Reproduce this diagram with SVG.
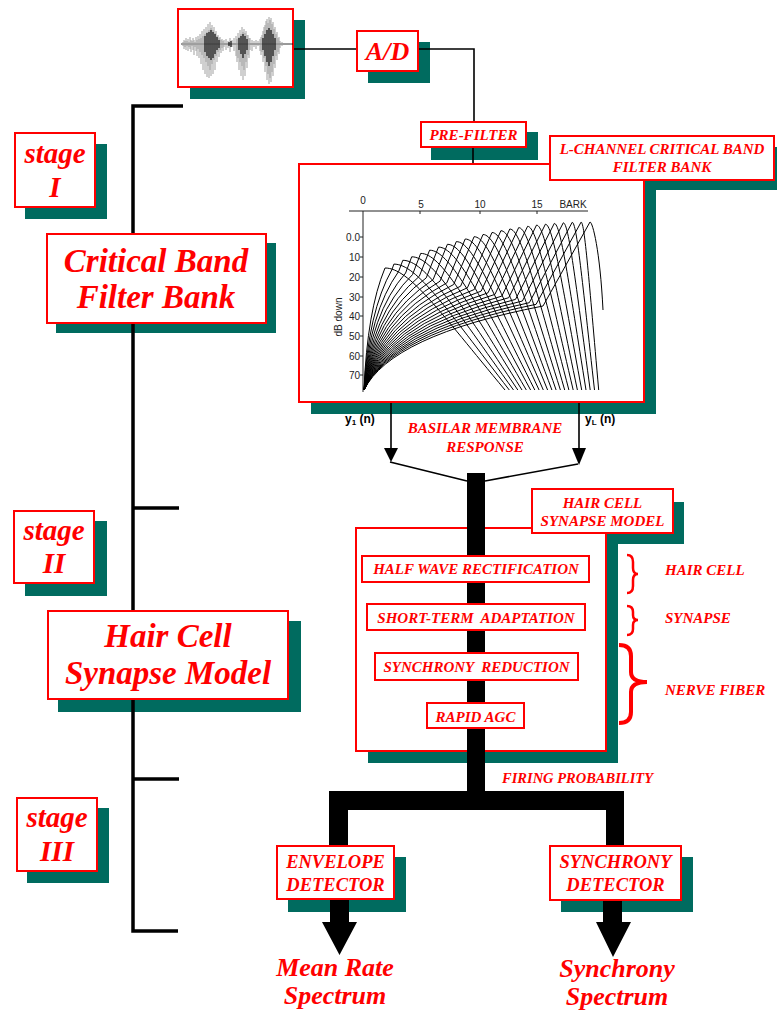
<svg xmlns="http://www.w3.org/2000/svg" width="777" height="1010" viewBox="0 0 777 1010">
<style>
.box{fill:#fff;stroke:#ff0000;stroke-width:2}
.sh{fill:#006b5f}
.t{font-family:"Liberation Serif",serif;font-weight:bold;font-style:italic;fill:#ff0000;text-anchor:middle}
.ts{text-anchor:start}
.s15{font-size:15px}
.s18{font-size:18.5px}
.big{font-size:33px}
.stg{font-size:29px}
.ln{stroke:#000;stroke-width:1.6;fill:none}
.br{stroke:#000;stroke-width:3.5;fill:none}
.cv{fill:none;stroke:#000;stroke-width:1}
.ax{font-family:"Liberation Sans",Arial,sans-serif;font-size:10px;fill:#222}
.yl{font-family:"Liberation Sans",Arial,sans-serif;font-weight:bold;font-size:12px;fill:#000}
.brace{fill:none;stroke:#ff0000}
</style>
<rect width="777" height="1010" fill="#fff"/>
<g id="shadows">
<rect class="sh" x="190" y="20" width="115" height="79"/>
<rect class="sh" x="368" y="42" width="62" height="41"/>
<rect class="sh" x="431" y="132" width="107" height="28"/>
<rect class="sh" x="562" y="147" width="215" height="43"/>
<rect class="sh" x="311" y="176" width="345" height="238"/>
<rect class="sh" x="25" y="144" width="82" height="75"/>
<rect class="sh" x="56" y="243" width="220" height="90"/>
<rect class="sh" x="25" y="521" width="82" height="75"/>
<rect class="sh" x="58" y="621" width="243" height="91"/>
<rect class="sh" x="27" y="808" width="82" height="75"/>
<rect class="sh" x="368" y="540" width="250" height="223"/>
<rect class="sh" x="543" y="502" width="141" height="42"/>
<rect class="sh" x="373" y="567" width="229" height="26"/>
<rect class="sh" x="378" y="615" width="220" height="28"/>
<rect class="sh" x="385" y="664" width="206" height="28"/>
<rect class="sh" x="438" y="713" width="99" height="29"/>
<rect class="sh" x="288" y="857" width="118" height="55"/>
<rect class="sh" x="561" y="857" width="132" height="55"/>
</g>
<g id="hair-cell-container">
<rect class="box" x="356" y="528" width="250" height="223"/>
</g>
<g id="connectors">
<path class="br" d="M183,106 H133 V931 H178 M133,508 H179 M133,779 H179"/>
<path class="ln" d="M293,49 H357 M418,49 H474 V122 M473,147 V164"/>
<path class="ln" d="M391,402 V449 M579,402 V449 M390,462 L467,481 M485,481 L578,464"/>
<polygon points="384,448 398,448 391,462" fill="#000"/>
<polygon points="572,448 586,448 579,465" fill="#000"/>
<rect x="467" y="473" width="18" height="337" fill="#000"/>
<rect x="329" y="791" width="295" height="19" fill="#000"/>
<rect x="329" y="791" width="19" height="56" fill="#000"/>
<rect x="606" y="791" width="18" height="56" fill="#000"/>
<polygon points="330,899 349,899 349,922 357,922 339.5,955 322,922 330,922" fill="#000"/>
<polygon points="603,899 622,899 622,922 631,922 613,957 596,922 603,922" fill="#000"/>
</g>
<g id="waveform">
<rect class="box" x="178" y="9" width="115" height="78"/>
<path d="M181,44 H293" stroke="#000" stroke-width="0.8"/>
<path stroke="#a0a0a0" stroke-width="1" d="M183,42V46M184,40V49M185,41V47M186,38V50M187,41V46M188,39V51M189,42V47M190,37V49M191,40V52M192,41V46M193,38V50M194,40V55M195,42V47M196,37V51M197,40V56M198,36V49M199,39V58M200,34V52M201,38V64M202,31V55M203,36V70M204,29V58M205,34V74M206,27V62M207,32V77M208,24V66M209,30V78M210,22V70M211,28V76M212,25V64M213,30V74M214,27V60M215,33V70M216,31V56M217,36V62M218,35V52M219,38V57M220,37V50M221,40V53M222,39V48M223,41V51M224,40V47M226,39V50M228,41V48M230,38V52M232,40V47M234,38V51M236,36V56M237,39V62M238,33V58M239,37V70M240,30V62M241,34V76M242,27V66M243,32V80M244,29V70M245,33V76M246,31V62M247,35V68M248,35V55M249,38V58M250,38V50M252,40V51M254,41V47M256,40V49M258,41V46M260,39V51M261,37V55M262,35V52M263,31V62M264,27V58M265,25V72M266,21V66M267,19V80M268,23V74M269,17V84M270,20V78M271,18V82M272,24V72M273,22V76M274,29V64M275,27V68M276,34V56M277,32V60M278,38V52M279,37V54M280,41V48M282,42V46"/>
<path stroke="#000" stroke-width="1.1" d="M205,36V52M207,33V56M209,32V58M211,30V60M213,32V58M215,34V54M217,37V50M219,40V48M229,42V46M231,41V47M239,38V50M241,36V54M243,34V58M245,36V54M247,39V50M263,38V50M265,34V56M267,30V62M269,28V66M271,30V62M273,34V56M275,38V50"/>
</g>
<g id="ad">
<rect class="box" x="357" y="31" width="61" height="40"/>
<text class="t" x="387.5" y="60" font-size="26">A/D</text>
</g>
<g id="pre-filter">
<rect class="box" x="421" y="122" width="105" height="25"/>
<text class="t s15" x="473.5" y="140">PRE-FILTER</text>
</g>
<g id="filter-bank-graph">
<rect class="box" x="299" y="164" width="345" height="238"/>
<path d="M349,211 H588 M363,211 V392 M420,211 V214 M480,211 V214 M537,211 V214 M360,237 H363 M360,257 H363 M360,277 H363 M360,297 H363 M360,316 H363 M360,336 H363 M360,356 H363 M360,375 H363" stroke="#222" stroke-width="1" fill="none"/>
<text class="ax" x="363" y="204" text-anchor="middle">0</text>
<text class="ax" x="421" y="208" text-anchor="middle">5</text>
<text class="ax" x="480" y="208" text-anchor="middle">10</text>
<text class="ax" x="537" y="208" text-anchor="middle">15</text>
<text class="ax" x="573" y="208" text-anchor="middle">BARK</text>
<text class="ax" x="360" y="241" text-anchor="end">0.0</text>
<text class="ax" x="360" y="261" text-anchor="end">10</text>
<text class="ax" x="360" y="281" text-anchor="end">20</text>
<text class="ax" x="360" y="301" text-anchor="end">30</text>
<text class="ax" x="360" y="320" text-anchor="end">40</text>
<text class="ax" x="360" y="340" text-anchor="end">50</text>
<text class="ax" x="360" y="360" text-anchor="end">60</text>
<text class="ax" x="360" y="379" text-anchor="end">70</text>
<text class="ax" x="0" y="0" font-size="11" text-anchor="middle" transform="translate(342,317) rotate(-90)">dB down</text>
<g class="cv">
<path d="M364,390 Q367.2,310.7 385,268 C409,268 439,310.7 505,390"/>
<path d="M364,390 Q368.2,311.8 391.9,269.7 L393.9,264.1 C417,264.1 445.8,308.2 509.3,390"/>
<path d="M364,390 Q369.2,312.8 398.7,271.3 L402.8,260.3 C424.9,260.3 452.6,305.7 513.5,390"/>
<path d="M364,390 Q370.2,313.9 405.6,273 L411.7,256.8 C432.9,256.8 459.4,303.4 517.8,390"/>
<path d="M364,390 Q371.3,315 412.5,274.6 L420.7,253.4 C441,253.4 466.3,301.2 522,390"/>
<path d="M364,390 Q372.3,316.1 419.3,276.3 L429.6,250.2 C448.9,250.2 473.1,299.1 526.3,390"/>
<path d="M364,390 Q373.3,317.1 426.2,277.9 L438.5,247.1 C456.9,247.1 479.9,297.1 530.6,390"/>
<path d="M364,390 Q374.4,318.2 433.1,279.6 L447.4,244.3 C464.9,244.3 486.7,295.3 534.8,390"/>
<path d="M364,390 Q375.4,319.3 440,281.2 L456.3,241.6 C472.9,241.6 493.6,293.5 539.1,390"/>
<path d="M364,390 Q376.4,320.4 446.8,282.9 L465.2,239 C480.8,239 500.3,291.9 543.3,390"/>
<path d="M364,390 Q377.5,321.4 453.7,284.5 L474.1,236.7 C488.8,236.7 507.2,290.4 547.6,390"/>
<path d="M364,390 Q378.5,322.5 460.6,286.2 L483,234.5 C496.8,234.5 514,288.9 551.9,390"/>
<path d="M364,390 Q379.5,323.6 467.4,287.8 L492,232.5 C504.8,232.5 520.8,287.6 556.1,390"/>
<path d="M364,390 Q380.5,324.7 474.3,289.5 L500.9,230.7 C512.8,230.7 527.7,286.5 560.4,390"/>
<path d="M364,390 Q381.6,325.7 481.2,291.1 L509.8,229 C520.8,229 534.5,285.4 564.7,390"/>
<path d="M364,390 Q382.6,326.8 488,292.8 L518.7,227.6 C528.7,227.6 541.3,284.4 568.9,390"/>
<path d="M364,390 Q383.6,327.9 494.9,294.4 L527.6,226.3 C536.7,226.3 548.1,283.6 573.2,390"/>
<path d="M364,390 Q384.7,329 501.8,296.1 L536.5,225.1 C544.7,225.1 554.9,282.8 577.4,390"/>
<path d="M364,390 Q385.7,330 508.7,297.7 L545.4,224.2 C552.7,224.2 561.7,282.2 581.7,390"/>
<path d="M364,390 Q386.7,331.1 515.5,299.4 L554.3,223.4 C560.6,223.4 568.6,281.7 586,390"/>
<path d="M364,390 Q387.8,332.1 522.4,301 L563.3,222.8 C568.7,222.8 575.4,281.3 590.2,390"/>
<path d="M364,390 Q388.8,333.3 529.3,302.7 L572.2,222.3 C576.7,222.3 582.2,281 594.5,390"/>
<path d="M364,390 Q389.8,334.3 536.1,304.3 L581.1,222.1 C584.6,222.1 589,280.9 598.7,390"/>
<path d="M364,390 Q390.9,335.4 543,306 L590,222 C592.6,222 600,250 603,310"/>
</g>
</g>
<g id="l-channel">
<rect class="box" x="550" y="136" width="224" height="44"/>
<text class="t s15" x="662" y="154">L-CHANNEL CRITICAL BAND</text>
<text class="t s15" x="662" y="172">FILTER BANK</text>
</g>
<g id="outputs-labels">
<text class="yl" x="345" y="423">y<tspan font-size="8" dy="2">1</tspan><tspan dy="-2"> (n)</tspan></text>
<text class="yl" x="585" y="423">y<tspan font-size="8" dy="2">L</tspan><tspan dy="-2"> (n)</tspan></text>
</g>
<g id="basilar-label">
<text class="t s15" x="485" y="433">BASILAR MEMBRANE</text>
<text class="t s15" x="485" y="452">RESPONSE</text>
</g>
<g id="hcsm-label">
<rect class="box" x="532" y="489" width="141" height="44"/>
<text class="t s15" x="602.5" y="508">HAIR CELL</text>
<text class="t s15" x="602.5" y="526">SYNAPSE MODEL</text>
</g>
<g id="half-wave">
<rect class="box" x="362" y="556" width="227" height="26"/>
<text class="t s15" x="476" y="574">HALF WAVE RECTIFICATION</text>
</g>
<g id="short-term">
<rect class="box" x="367" y="604" width="218" height="26"/>
<text class="t s15" x="476" y="623" xml:space="preserve">SHORT-TERM  ADAPTATION</text>
</g>
<g id="sync-reduction">
<rect class="box" x="375" y="653" width="203" height="27"/>
<text class="t s15" x="476.5" y="672" xml:space="preserve">SYNCHRONY  REDUCTION</text>
</g>
<g id="rapid-agc">
<rect class="box" x="427" y="703" width="97" height="25"/>
<text class="t s15" x="475.5" y="722">RAPID AGC</text>
</g>
<g id="braces">
<path class="brace" stroke-width="2.5" d="M627,555 Q633,555 633,562 L633,568 Q633,574 638,574 Q633,574 633,580 L633,586 Q633,593 627,593"/>
<path class="brace" stroke-width="2.5" d="M627,606 Q633,606 633,612 L633,615 Q633,620 638,620 Q633,620 633,625 L633,629 Q633,635 627,635"/>
<path class="brace" stroke-width="4" d="M619,645 Q631,645 631,656 L631,672 Q631,682 647,682 Q631,682 631,692 L631,712 Q631,723 619,723"/>
<text class="t ts s15" x="665" y="575">HAIR CELL</text>
<text class="t ts s15" x="665" y="623">SYNAPSE</text>
<text class="t ts s15" x="665" y="695">NERVE FIBER</text>
</g>
<g id="firing-label">
<text class="t ts" x="502" y="783" font-size="14.5">FIRING PROBABILITY</text>
</g>
<g id="envelope-detector">
<rect class="box" x="277" y="846" width="117" height="53"/>
<text class="t s18" x="335.5" y="868">ENVELOPE</text>
<text class="t s18" x="335.5" y="891">DETECTOR</text>
</g>
<g id="synchrony-detector">
<rect class="box" x="550" y="846" width="131" height="54"/>
<text class="t s18" x="615.5" y="868">SYNCHRONY</text>
<text class="t s18" x="615.5" y="891">DETECTOR</text>
</g>
<g id="mean-rate">
<text class="t" x="335" y="976" font-size="26">Mean Rate</text>
<text class="t" x="335" y="1004" font-size="26">Spectrum</text>
</g>
<g id="synchrony-spectrum">
<text class="t" x="617" y="977" font-size="26">Synchrony</text>
<text class="t" x="617" y="1005" font-size="26">Spectrum</text>
</g>
<g id="stage-1">
<rect class="box" x="15" y="133" width="80" height="74"/>
<text class="t stg" x="55" y="163">stage</text>
<text class="t stg" x="55" y="197">I</text>
</g>
<g id="critical-band">
<rect class="box" x="47" y="234" width="219" height="89"/>
<text class="t big" x="156" y="272">Critical Band</text>
<text class="t big" x="156" y="308">Filter Bank</text>
</g>
<g id="stage-2">
<rect class="box" x="14" y="511" width="80" height="72"/>
<text class="t stg" x="54" y="540">stage</text>
<text class="t stg" x="54" y="573">II</text>
</g>
<g id="hair-cell-synapse-model">
<rect class="box" x="48" y="611" width="240" height="88"/>
<text class="t big" x="168" y="647">Hair Cell</text>
<text class="t big" x="168" y="684">Synapse Model</text>
</g>
<g id="stage-3">
<rect class="box" x="17" y="798" width="80" height="73"/>
<text class="t stg" x="57" y="827">stage</text>
<text class="t stg" x="57" y="861">III</text>
</g>
</svg>
